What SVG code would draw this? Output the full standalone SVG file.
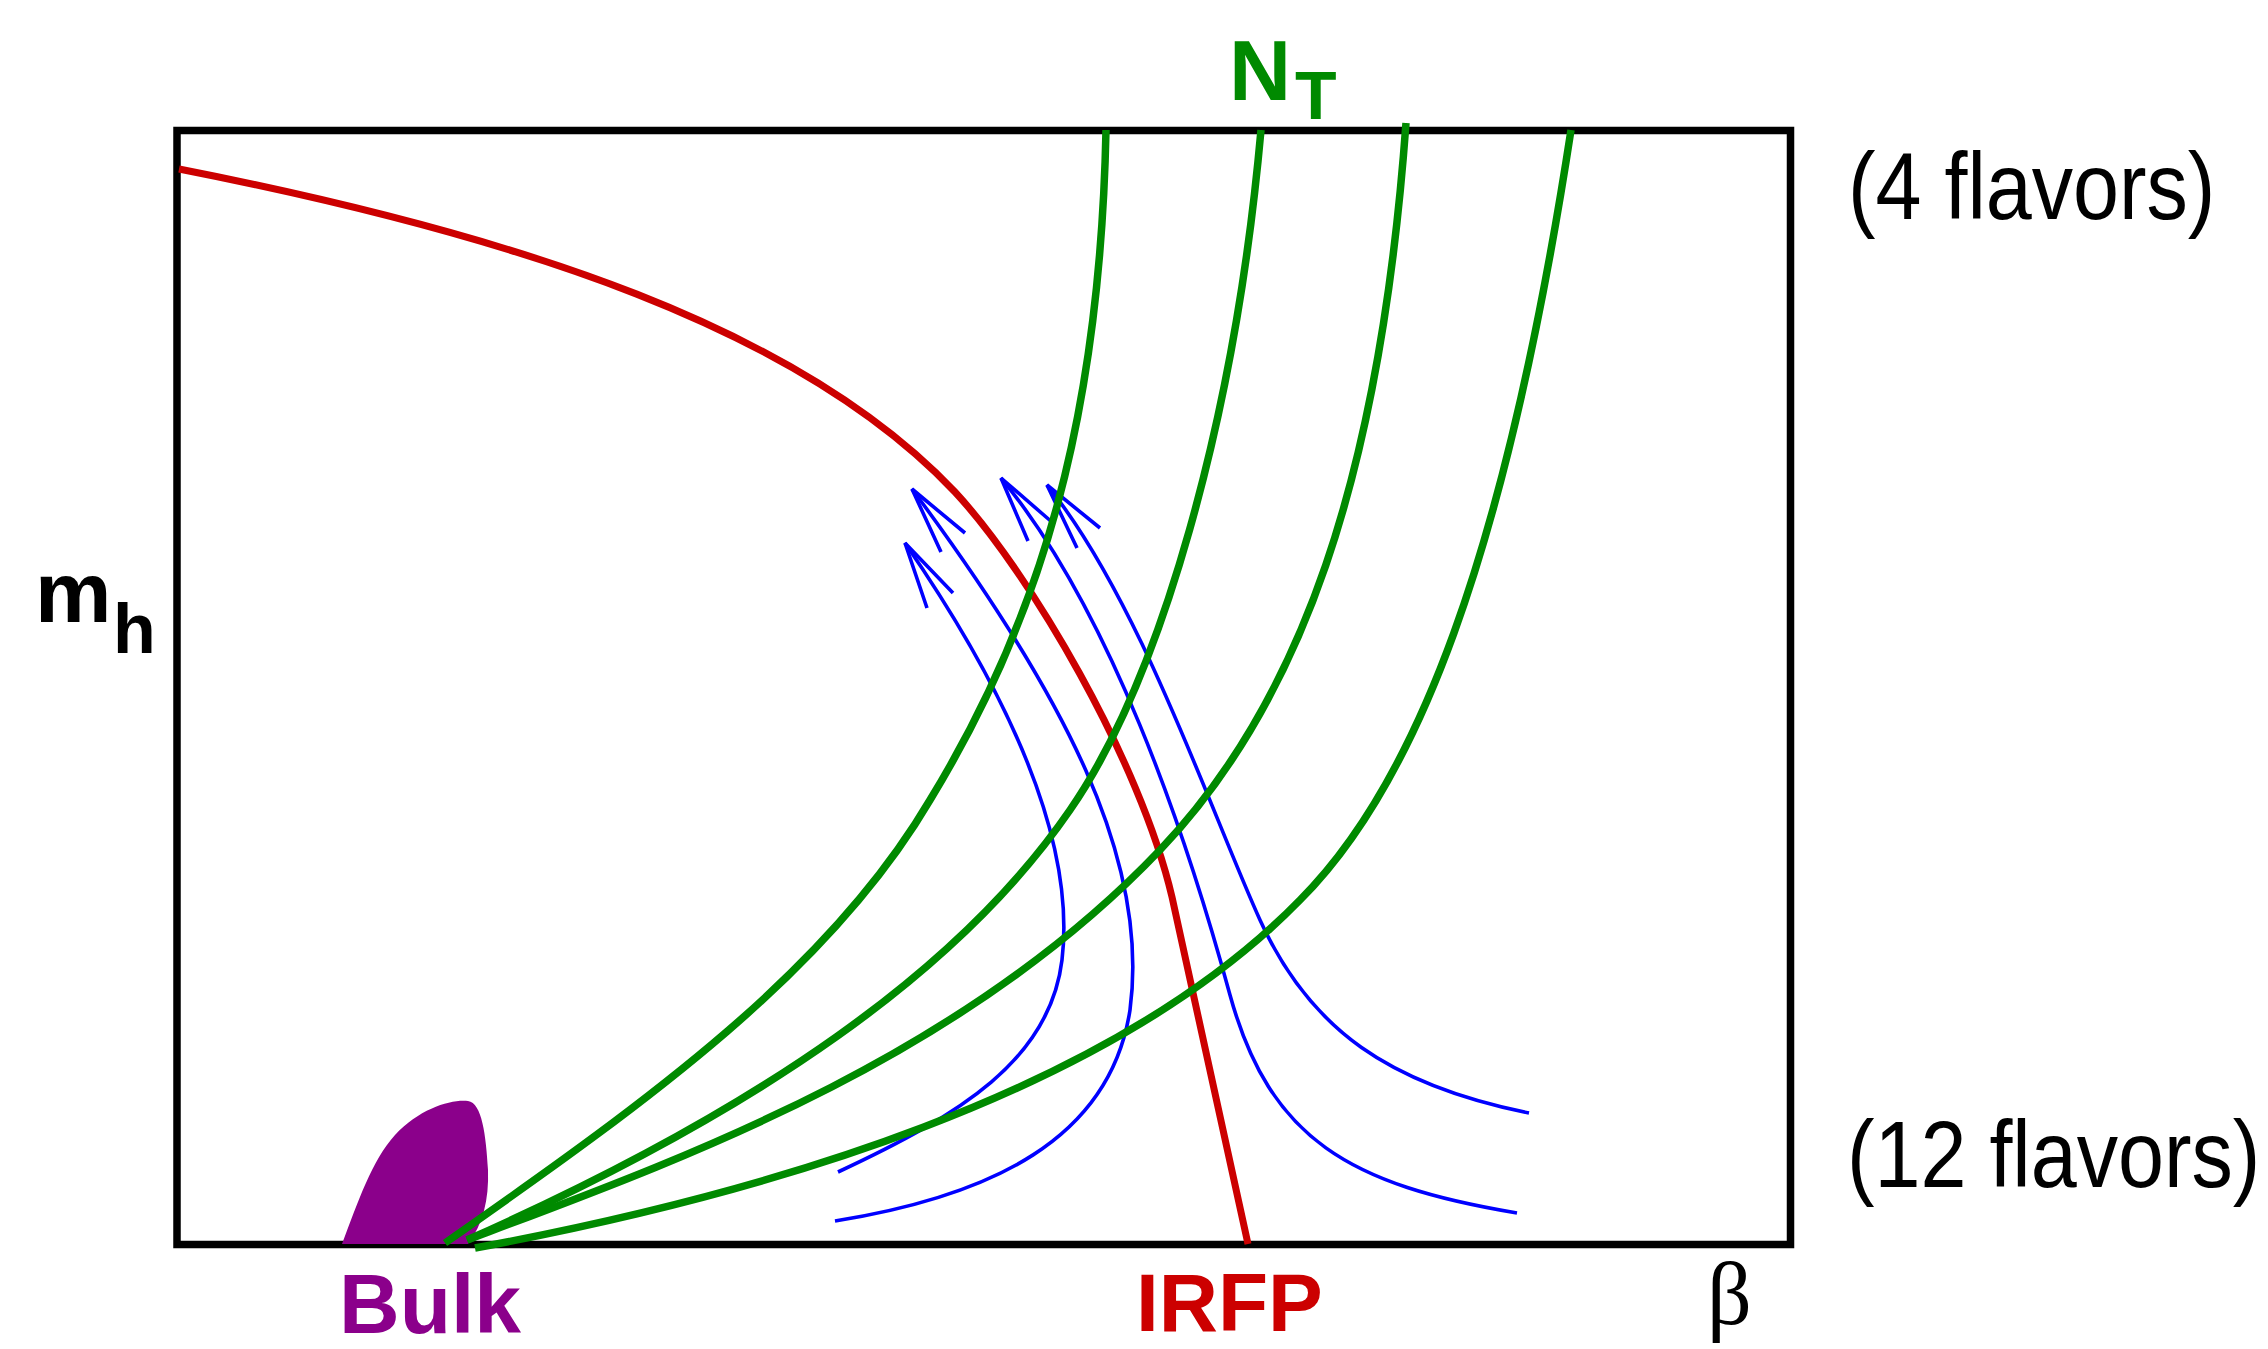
<svg xmlns="http://www.w3.org/2000/svg" width="2268" height="1349" viewBox="0 0 2268 1349">
<style>
.frame{fill:none;stroke:#000;stroke-width:7.5}
.red{fill:none;stroke:#cc0000;stroke-width:7}
.green{fill:none;stroke:#008a00;stroke-width:7.5}
.blue{fill:none;stroke:#0000ff;stroke-width:3.6}
.lbl{font-family:"Liberation Sans",Arial,sans-serif;font-weight:bold}
.cm{font-family:"Liberation Sans",Arial,sans-serif;font-size:95px}
</style>
<rect width="2268" height="1349" fill="#fff"/>
<g id="frame"><rect class="frame" x="177" y="130.5" width="1613.5" height="1114"/></g>
<g id="bulk-region"><path fill="#8b008b" d="M342,1244 C358,1202 372,1160 395,1135 C420,1108 452,1099 468,1101 C482,1103 486,1135 488,1170 C489,1200 483,1224 468,1244 Z"/></g>
<g id="flow-lines">
<path class="blue" d="M838,1172 C960,1115 1050,1060 1062,960 C1075,850 1020,710 905,543"/>
<path class="blue" d="M927,608 L905,543 L953,593"/>
<path class="blue" d="M835,1221 C990,1196 1110,1140 1130,1010 C1150,860 1065,695 912,489"/>
<path class="blue" d="M941,552 L912,489 L965,533"/>
<path class="blue" d="M1517,1213 C1350,1185 1270,1140 1230,995 C1185,830 1110,610 1001,478"/>
<path class="blue" d="M1028,541 L1001,478 L1053,523"/>
<path class="blue" d="M1529,1113 C1390,1085 1310,1030 1260,920 C1210,810 1140,600 1047,485"/>
<path class="blue" d="M1077,548 L1047,485 L1100,528"/>
</g>
<g id="irfp-line"><path class="red" d="M179,169 C520,236 800,328 955,492 C1030,573 1140,760 1172,897 L1248,1244"/></g>
<g id="nt-lines">
<path class="green" d="M445,1243 C650,1100 830,970 930,800 C1040,620 1100,420 1106,130"/>
<path class="green" d="M467,1240 C760,1110 960,970 1070,810 C1160,680 1235,420 1261,130"/>
<path class="green" d="M467,1240 C680,1160 960,1060 1160,850 C1300,703 1380,480 1406,123"/>
<path class="green" d="M475,1248 C760,1195 1110,1095 1300,900 C1415,785 1505,560 1571,130"/>
</g>
<g id="labels">
<text class="lbl" x="1229" y="100" font-size="86" fill="#008a00">N</text>
<text class="lbl" x="1295" y="119" font-size="68" fill="#008a00">T</text>
<text class="lbl" x="35" y="622" font-size="86" fill="#000">m</text>
<text class="lbl" x="113" y="653" font-size="70" fill="#000">h</text>
<text class="lbl" x="339" y="1333" font-size="84" fill="#8b008b">Bulk</text>
<text class="lbl" x="1136" y="1331" font-size="82" fill="#cc0000">IRFP</text>
<text x="1707" y="1324" font-size="88" font-family="'Liberation Serif','Times New Roman',serif" fill="#000">β</text>
<text class="cm" transform="translate(1848,219) scale(0.87,1)" x="0" y="0" fill="#000">(4 flavors)</text>
<text class="cm" transform="translate(1847,1187) scale(0.87,1)" x="0" y="0" fill="#000">(12 flavors)</text>
</g>
</svg>
